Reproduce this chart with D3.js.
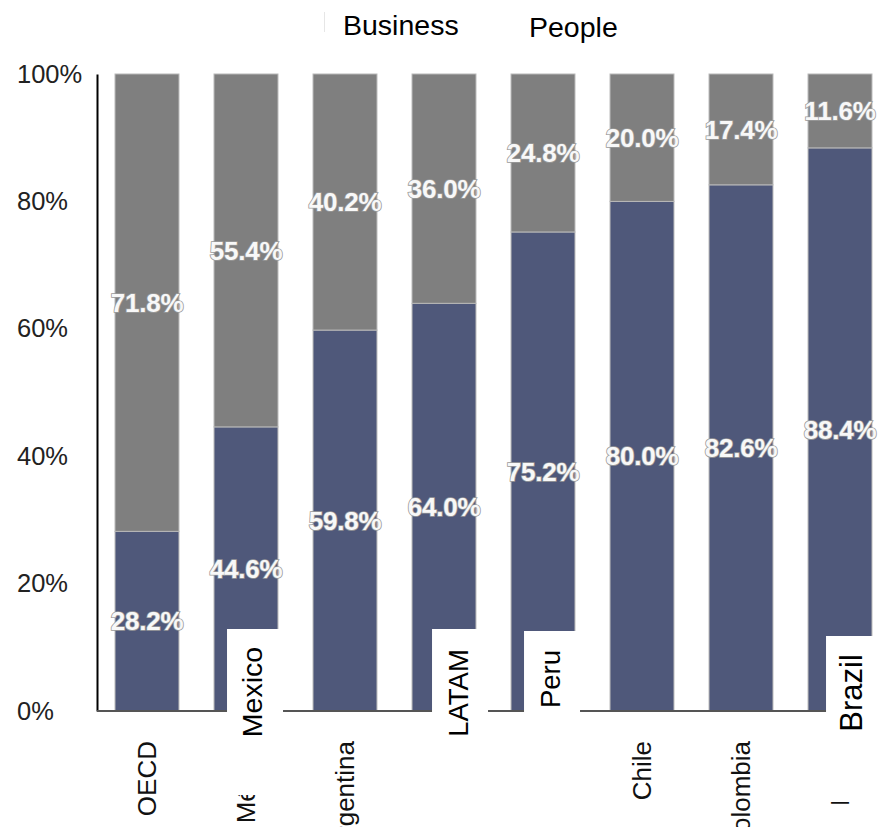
<!DOCTYPE html>
<html>
<head>
<meta charset="utf-8">
<script src="https://cdn.jsdelivr.net/npm/d3@7"></script>
<style>
  html, body { margin: 0; padding: 0; background: #fff; }
  svg { display: block; font-family: "Liberation Sans", Arial, sans-serif; }
</style>
</head>
<body>
<svg id="chart" width="879" height="827"></svg>
<script>
// ---- data ----
const categories = ["OECD", "México", "Argentina", "LATAM", "Peru", "Chile", "Colombia", "Brazil"];
const business = [28.2, 44.6, 59.8, 64.0, 75.2, 80.0, 82.6, 88.4];
const people   = [71.8, 55.4, 40.2, 36.0, 24.8, 20.0, 17.4, 11.6];
const seriesNames = ["Business", "People"];
const yTicks = [0, 20, 40, 60, 80, 100];
// overlay annotation labels (category they sit over, text)
const overlayCats = ["México", "LATAM", "Peru", "Brazil"];
const overlayTexts = ["Mexico", "LATAM", "Peru", "Brazil"];

// ---- layout / style ----
const W = 879, H = 827;
const mLeft = 97, mTop = 74, mBottom = 711;
const colors = { Business: "#4f587a", People: "#7f7f7f" };

const svg = d3.select("#chart");

const x = d3.scaleBand().domain(categories).range([mLeft, 890])
  .paddingInner(0.354).paddingOuter(0.182);
const y = d3.scaleLinear().domain([0, 100]).range([mBottom, mTop]);

const rows = categories.map((c, i) => ({ cat: c, Business: business[i], People: people[i] }));
const stacked = d3.stack().keys(seriesNames)(rows);

// bars
const g = svg.append("g");
stacked.forEach(layer => {
  g.selectAll(null).data(layer).enter().append("rect")
    .attr("x", d => x(d.data.cat))
    .attr("width", x.bandwidth())
    .attr("y", d => y(d[1]))
    .attr("height", d => y(d[0]) - y(d[1]))
    .attr("fill", colors[layer.key])
    .attr("stroke", "#b8b8b8")
    .attr("stroke-width", 1);
});

// data labels
stacked.forEach(layer => {
  g.selectAll(null).data(layer).enter().append("text")
    .attr("x", d => x(d.data.cat) + x.bandwidth() / 2)
    .attr("y", d => (y(d[0]) + y(d[1])) / 2)
    .attr("dy", "0.35em")
    .attr("text-anchor", "middle")
    .attr("font-size", 26)
    .attr("font-weight", "bold")
    .attr("fill", "#f8f8f8")
    .attr("stroke", "#9a9a9a")
    .attr("stroke-width", 1.6)
    .attr("paint-order", "stroke")
    .attr("letter-spacing", -0.2)
    .text(d => (d[1] - d[0]).toFixed(1) + "%");
});

// y axis
const yAxis = svg.append("g").attr("transform", `translate(${mLeft},0)`)
  .call(d3.axisLeft(y).tickValues(yTicks).tickSize(0).tickFormat(d => d + "%"));
yAxis.select(".domain").attr("stroke", "#000").attr("stroke-width", 2);
yAxis.selectAll("text")
  .attr("x", 17 - mLeft)
  .attr("text-anchor", "start")
  .attr("font-size", 25.5)
  .attr("fill", "#222")
  .attr("font-family", "Liberation Sans, Arial, sans-serif");

// x axis
const xAxis = svg.append("g").attr("transform", `translate(0,${mBottom})`)
  .call(d3.axisBottom(x).tickSize(0));
xAxis.select(".domain").attr("d", `M${mLeft},0H${W}`).attr("stroke", "#555").attr("stroke-width", 2);
xAxis.selectAll("text")
  .attr("transform", "rotate(-90)")
  .attr("x", -30)
  .attr("y", 0)
  .attr("dy", "0.35em")
  .attr("text-anchor", "end")
  .attr("font-size", 26)
  .attr("fill", "#111")
  .attr("font-family", "Liberation Sans, Arial, sans-serif");

// overlay white boxes with labels
const boxOff = [13, 20, 13, 18];
const boxTop = [629, 629, 631, 636];
const boxBot = [795, 827, 827, 802];
const txtMid = [692, 693, 679, 693];
const txtBase = [262, 468, 560, 862];
const txtSize = [28.5, 27.5, 27.5, 31];
const ov = svg.append("g");
overlayCats.forEach((c, i) => {
  const bx = x(c) + boxOff[i];
  ov.append("rect").attr("x", bx).attr("y", boxTop[i])
    .attr("width", 56).attr("height", boxBot[i] - boxTop[i]).attr("fill", "#fff");
  ov.append("text")
    .attr("transform", `translate(${txtBase[i]},${txtMid[i]}) rotate(-90)`)
    .attr("text-anchor", "middle")
    .attr("font-size", txtSize[i])
    .attr("fill", "#000")
    .text(overlayTexts[i]);
});

// legend (markers covered)
svg.append("line").attr("x1", 324.5).attr("x2", 324.5).attr("y1", 12).attr("y2", 32)
  .attr("stroke", "#e6e6e6").attr("stroke-width", 1);
svg.append("text").attr("x", 343).attr("y", 35).attr("font-size", 28.5).attr("fill", "#000").text(seriesNames[0]);
svg.append("text").attr("x", 529).attr("y", 37).attr("font-size", 28.5).attr("fill", "#000").text(seriesNames[1]);
</script>
</body>
</html>
